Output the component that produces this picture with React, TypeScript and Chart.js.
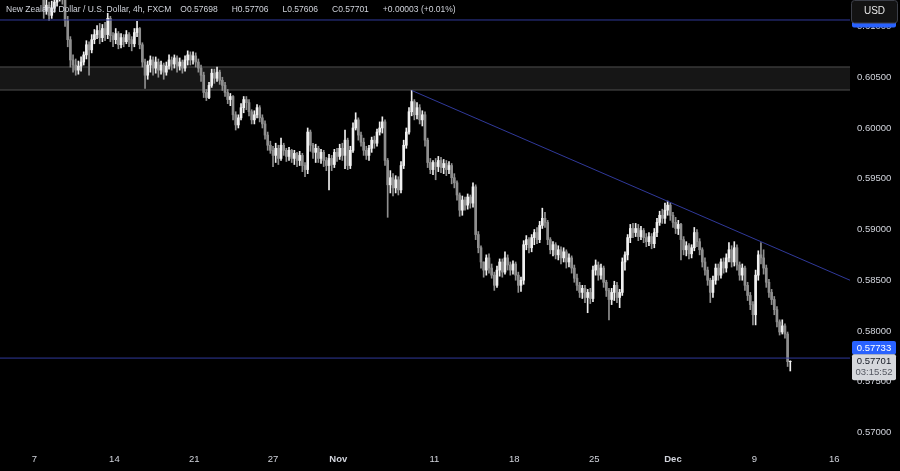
import { useEffect, useRef } from 'react';
import { Chart, registerables } from 'chart.js';

Chart.register(...registerables);

// 4h candles, prices in pips (price x 10000); open = previous close
const firstOpen = 6138;
const closes = [
  6140, 6142, 6138, 6141, 6144, 6139, 6137, 6140, 6143, 6141,
  6138, 6135, 6137, 6139, 6136, 6133, 6116, 6121, 6111, 6118,
  6124, 6131, 6134, 6129, 6106, 6087, 6067, 6062, 6057, 6061,
  6065, 6072, 6082, 6077, 6087, 6092, 6096, 6089, 6098, 6092,
  6108, 6091, 6087, 6093, 6082, 6089, 6085, 6092, 6087, 6083,
  6094, 6098, 6082, 6065, 6052, 6062, 6067, 6059, 6065, 6057,
  6062, 6055, 6061, 6067, 6063, 6069, 6061, 6065, 6059, 6067,
  6072, 6067, 6071, 6065, 6059, 6052, 6035, 6030, 6042, 6054,
  6049, 6055, 6047, 6042, 6035, 6028, 6031, 6013, 6003, 6010,
  6020, 6028, 6025, 6016, 6008, 6013, 6020, 6010, 6004, 5993,
  5983, 5978, 5973, 5980, 5970, 5983, 5978, 5972, 5978, 5970,
  5975, 5968, 5973, 5963, 5959, 5996, 5983, 5976, 5980, 5970,
  5976, 5968, 5963, 5970, 5964, 5976, 5972, 5980, 5973, 5988,
  5963, 5978, 6000, 6008, 5993, 5986, 5978, 5973, 5980, 5988,
  5985, 5996, 6000, 6006, 5968, 5944, 5951, 5941, 5949, 5939,
  5963, 5983, 5996, 6016, 6026, 6013, 6020, 6008, 6013, 5988,
  5966, 5959, 5966, 5962, 5968, 5961, 5965, 5959, 5963, 5951,
  5946, 5934, 5919, 5929, 5924, 5932, 5926, 5942, 5895, 5882,
  5868, 5860, 5872, 5862, 5855, 5845, 5860, 5868, 5858, 5872,
  5865, 5860, 5866, 5855, 5845, 5850, 5885, 5890, 5882, 5892,
  5897, 5890, 5904, 5911, 5907, 5890, 5880, 5885, 5875, 5880,
  5872, 5878, 5868, 5872, 5862, 5852, 5845, 5838, 5842, 5833,
  5838, 5832, 5860, 5865, 5855, 5862, 5848, 5840, 5831, 5838,
  5845, 5833, 5838, 5868, 5875, 5892, 5901, 5897, 5901, 5893,
  5899, 5892, 5888, 5893, 5886, 5897, 5907, 5914, 5911, 5919,
  5924, 5914, 5907, 5901, 5905, 5890, 5880, 5884, 5876, 5882,
  5897, 5888, 5880, 5868, 5860, 5850, 5838, 5850, 5862, 5855,
  5868, 5862, 5872, 5880, 5868, 5882, 5865, 5855, 5862, 5845,
  5835, 5826, 5816, 5855, 5875, 5872, 5862, 5848, 5838, 5831,
  5821, 5809, 5799, 5805, 5797, 5769.8, 5770.1,
];
const highs = [
  6146, 6147, 6144, 6146, 6149, 6146, 6143, 6145, 6148, 6147,
  6144, 6141, 6142, 6144, 6141, 6138, 6134, 6128, 6124, 6125,
  6132, 6137, 6140, 6138, 6133, 6110, 6090, 6072, 6068, 6066,
  6070, 6075, 6086, 6085, 6092, 6097, 6101, 6103, 6102, 6104,
  6113, 6110, 6094, 6098, 6095, 6093, 6092, 6096, 6094, 6090,
  6098, 6105, 6099, 6084, 6068, 6066, 6071, 6070, 6070, 6068,
  6066, 6064, 6065, 6072, 6070, 6072, 6071, 6069, 6067, 6071,
  6076, 6075, 6075, 6074, 6068, 6062, 6055, 6038, 6045, 6058,
  6058, 6060, 6057, 6050, 6045, 6038, 6034, 6032, 6016, 6013,
  6024, 6031, 6031, 6028, 6018, 6017, 6023, 6022, 6013, 6007,
  5996, 5987, 5982, 5985, 5983, 5990, 5985, 5980, 5981, 5979,
  5978, 5976, 5977, 5975, 5966, 6000, 5998, 5985, 5984, 5982,
  5979, 5978, 5971, 5974, 5973, 5979, 5980, 5984, 5985, 5998,
  5990, 5982, 6005, 6015, 6010, 5996, 5990, 5982, 5983, 5991,
  5992, 5999, 6006, 6011, 6008, 5970, 5958, 5955, 5953, 5952,
  5967, 5988, 6000, 6020, 6037, 6028, 6025, 6023, 6017, 6016,
  5990, 5970, 5968, 5970, 5972, 5971, 5969, 5968, 5967, 5965,
  5955, 5948, 5936, 5933, 5932, 5935, 5934, 5946, 5944, 5898,
  5884, 5868, 5875, 5876, 5866, 5858, 5864, 5871, 5871, 5878,
  5875, 5868, 5869, 5868, 5858, 5853, 5889, 5894, 5892, 5895,
  5900, 5902, 5908, 5921, 5917, 5909, 5892, 5888, 5887, 5884,
  5883, 5882, 5880, 5876, 5874, 5865, 5856, 5848, 5845, 5845,
  5841, 5842, 5864, 5870, 5868, 5866, 5864, 5850, 5842, 5842,
  5849, 5848, 5841, 5872, 5878, 5895, 5905, 5906, 5906, 5905,
  5903, 5901, 5896, 5897, 5896, 5901, 5911, 5918, 5920, 5926,
  5928, 5926, 5917, 5912, 5909, 5906, 5893, 5888, 5886, 5885,
  5902, 5900, 5891, 5882, 5872, 5863, 5852, 5854, 5866, 5866,
  5871, 5872, 5876, 5887, 5884, 5888, 5885, 5868, 5866, 5864,
  5848, 5838, 5829, 5860, 5879, 5887, 5880, 5865, 5851, 5841,
  5834, 5824, 5811, 5811, 5807, 5799, 5770.6,
];
const lows = [
  6134, 6136, 6133, 6135, 6138, 6134, 6132, 6134, 6138, 6136,
  6133, 6130, 6132, 6134, 6131, 6128, 6108, 6112, 6106, 6108,
  6114, 6120, 6125, 6122, 6100, 6080, 6060, 6055, 6052, 6053,
  6056, 6062, 6068, 6052, 6074, 6083, 6088, 6083, 6085, 6086,
  6088, 6085, 6080, 6083, 6078, 6079, 6080, 6083, 6080, 6076,
  6080, 6090, 6078, 6060, 6039, 6048, 6055, 6052, 6054, 6050,
  6053, 6048, 6052, 6058, 6057, 6059, 6055, 6057, 6054, 6056,
  6062, 6062, 6063, 6060, 6055, 6046, 6030, 6027, 6029, 6040,
  6044, 6046, 6043, 6037, 6031, 6024, 6022, 6008, 5998, 6000,
  6008, 6015, 6018, 6012, 6004, 6004, 6010, 6006, 6000, 5989,
  5978, 5975, 5962, 5966, 5964, 5968, 5973, 5967, 5968, 5966,
  5964, 5962, 5963, 5957, 5952, 5955, 5977, 5970, 5966, 5966,
  5965, 5962, 5958, 5939, 5958, 5961, 5967, 5969, 5968, 5960,
  5959, 5960, 5976, 5998, 5988, 5982, 5973, 5969, 5968, 5976,
  5980, 5982, 5993, 5995, 5963, 5912, 5936, 5933, 5936, 5934,
  5936, 5960, 5980, 5994, 6012, 6008, 6009, 6004, 6002, 5982,
  5961, 5955, 5954, 5949, 5957, 5956, 5955, 5953, 5955, 5945,
  5941, 5929, 5913, 5914, 5919, 5920, 5921, 5922, 5890, 5877,
  5862, 5853, 5855, 5857, 5852, 5840, 5843, 5854, 5853, 5856,
  5860, 5855, 5856, 5850, 5838, 5839, 5846, 5880, 5877, 5878,
  5885, 5886, 5887, 5901, 5902, 5885, 5876, 5874, 5871, 5870,
  5866, 5868, 5862, 5863, 5857, 5848, 5840, 5833, 5832, 5828,
  5818, 5827, 5829, 5855, 5850, 5851, 5843, 5834, 5811, 5826,
  5830, 5828, 5823, 5835, 5860, 5870, 5887, 5892, 5893, 5889,
  5890, 5887, 5883, 5884, 5881, 5882, 5893, 5904, 5906, 5906,
  5914, 5909, 5902, 5896, 5895, 5870, 5875, 5874, 5871, 5872,
  5879, 5883, 5875, 5863, 5855, 5845, 5828, 5833, 5846, 5850,
  5852, 5857, 5858, 5868, 5863, 5864, 5860, 5850, 5850, 5840,
  5830, 5821, 5806, 5806, 5850, 5866, 5856, 5843, 5833, 5826,
  5816, 5804, 5796, 5797, 5793, 5765, 5760.6,
];

// x-axis labels (bar-index positions) and price ticks
const tickPositions = [12.5, 42.5, 72.5, 102, 126.5, 162.5, 192.5, 222.5, 252, 282.5, 312.5];
const tickLabels = ['7', '14', '21', '27', 'Nov', '11', '18', '25', 'Dec', '9', '16'];
const monthLabels = ['Nov', 'Dec'];
const priceTicks = [0.57, 0.575, 0.58, 0.585, 0.59, 0.595, 0.6, 0.605, 0.61];

// drawn levels
const zoneTop = 0.60601;
const zoneBottom = 0.60374;
const supportLevel = 0.57733;
const upperLevel = 0.61064;
const trendStart = { x: 154, y: 0.6037 };
const trendEnd = { x: 318.4, y: 0.585 };
const lastPrice = 0.57701;
const countdown = '03:15:52';

const headerTitle = 'New Zealand Dollar / U.S. Dollar, 4h, FXCM';
const headerValues = ['O0.57698', 'H0.57706', 'L0.57606', 'C0.57701', '+0.00003 (+0.01%)'];

const X_MIN = -0.4;
const X_MAX = 318.4;
const Y_MIN = 0.56857;
const Y_MAX = 0.61261;

const UP = '#f0f0f0';
const DOWN = '#8f8f8f';
const LINE_BLUE = '#30399a';
const TEXT = '#d1d4dc';
const FONT = '"Liberation Sans", Arial, sans-serif';

function roundRect(ctx: CanvasRenderingContext2D, x: number, y: number, w: number, h: number, r: number) {
  ctx.beginPath();
  ctx.moveTo(x + r, y);
  ctx.lineTo(x + w - r, y);
  ctx.quadraticCurveTo(x + w, y, x + w, y + r);
  ctx.lineTo(x + w, y + h - r);
  ctx.quadraticCurveTo(x + w, y + h, x + w - r, y + h);
  ctx.lineTo(x + r, y + h);
  ctx.quadraticCurveTo(x, y + h, x, y + h - r);
  ctx.lineTo(x, y + r);
  ctx.quadraticCurveTo(x, y, x + r, y);
  ctx.closePath();
}

const overlayPlugin = {
  id: 'overlay',
  afterDraw(chart: any) {
    const ctx: CanvasRenderingContext2D = chart.ctx;
    const yScale = chart.scales.y;
    const right = chart.chartArea.right;
    ctx.save();

    // header
    ctx.font = `8.5px ${FONT}`;
    ctx.fillStyle = TEXT;
    ctx.textBaseline = 'middle';
    ctx.textAlign = 'left';
    let hx = 6;
    ctx.fillText(headerTitle, hx, 10);
    hx += ctx.measureText(headerTitle).width + 9;
    headerValues.forEach((t) => {
      ctx.fillText(t, hx, 10);
      hx += ctx.measureText(t).width + 14;
    });

    // upper level label (mostly hidden by the currency button)
    const uy = yScale.getPixelForValue(upperLevel);
    ctx.fillStyle = '#2962ff';
    roundRect(ctx, right + 2, uy - 7.5, 44, 15, 2);
    ctx.fill();

    // currency button
    ctx.fillStyle = '#131313';
    ctx.strokeStyle = '#3c3f48';
    ctx.lineWidth = 1;
    roundRect(ctx, right + 1.5, 0.5, 46, 22.5, 3);
    ctx.fill();
    ctx.stroke();
    ctx.fillStyle = '#e8e8e8';
    ctx.font = `10px ${FONT}`;
    ctx.textAlign = 'center';
    ctx.fillText('USD', right + 24.5, 11);

    // support level label
    const sy = yScale.getPixelForValue(supportLevel);
    ctx.fillStyle = '#2962ff';
    roundRect(ctx, right + 2, sy - 17, 44, 13.5, 2);
    ctx.fill();
    ctx.fillStyle = '#ffffff';
    ctx.font = `9.5px ${FONT}`;
    ctx.fillText(supportLevel.toFixed(5), right + 24, sy - 10);

    // last price + countdown label
    const ly = yScale.getPixelForValue(lastPrice);
    ctx.fillStyle = '#d5d7dc';
    roundRect(ctx, right + 2, ly - 7, 44, 26, 2);
    ctx.fill();
    ctx.fillStyle = '#131722';
    ctx.fillText(lastPrice.toFixed(5), right + 24, ly + 0.5);
    ctx.fillStyle = '#555862';
    ctx.fillText(countdown, right + 24, ly + 11.5);

    ctx.restore();
  },
};

export default function App() {
  const canvasRef = useRef<HTMLCanvasElement | null>(null);

  useEffect(() => {
    document.body.style.margin = '0';
    document.body.style.background = '#000';
    const canvas = canvasRef.current;
    if (!canvas) return;

    const opens = closes.map((_, i) => (i === 0 ? firstOpen : closes[i - 1]));
    const bodyData = closes.map((c, i) => ({ x: i, y: [opens[i] / 1e4, c / 1e4] }));
    const wickData = closes.map((c, i) => ({
      x: i,
      y: [Math.min(lows[i], opens[i], c) / 1e4, Math.max(highs[i], opens[i], c) / 1e4],
    }));
    const colors = closes.map((c, i) => (c >= opens[i] ? UP : DOWN));

    const flat = (v: number) => [
      { x: X_MIN, y: v },
      { x: X_MAX, y: v },
    ];

    const noPad = (s: any) => {
      s.paddingTop = 0;
      s.paddingBottom = 0;
      s.paddingLeft = 0;
      s.paddingRight = 0;
    };

    const chart = new Chart(canvas, {
      type: 'bar',
      data: {
        datasets: [
          {
            type: 'line',
            data: flat(zoneTop),
            borderColor: '#4f4f4f',
            borderWidth: 1,
            backgroundColor: '#161616',
            fill: '+1',
            pointRadius: 0,
            order: 20,
          } as any,
          {
            type: 'line',
            data: flat(zoneBottom),
            borderColor: '#4f4f4f',
            borderWidth: 1,
            fill: false,
            pointRadius: 0,
            order: 19,
          } as any,
          {
            type: 'bar',
            data: wickData,
            backgroundColor: colors,
            barThickness: 1,
            grouped: false,
            order: 6,
          } as any,
          {
            type: 'bar',
            data: bodyData,
            backgroundColor: colors,
            barThickness: 2,
            grouped: false,
            order: 5,
          } as any,
          {
            type: 'line',
            data: [trendStart, trendEnd],
            borderColor: LINE_BLUE,
            borderWidth: 1,
            pointRadius: 0,
            fill: false,
            order: 1,
          } as any,
          {
            type: 'line',
            data: flat(supportLevel),
            borderColor: LINE_BLUE,
            borderWidth: 1,
            pointRadius: 0,
            fill: false,
            order: 1,
          } as any,
          {
            type: 'line',
            data: flat(upperLevel),
            borderColor: LINE_BLUE,
            borderWidth: 1,
            pointRadius: 0,
            fill: false,
            order: 1,
          } as any,
        ],
      },
      options: {
        animation: false,
        responsive: true,
        maintainAspectRatio: false,
        layout: { padding: 0 },
        plugins: {
          legend: { display: false },
          tooltip: { enabled: false },
          title: { display: false },
        },
        scales: {
          x: {
            type: 'linear',
            min: X_MIN,
            max: X_MAX,
            offset: false,
            grid: { display: false, drawTicks: false },
            border: { display: false },
            afterBuildTicks: (s: any) => {
              s.ticks = tickPositions.map((v) => ({ value: v }));
            },
            afterFit: (s: any) => {
              s.height = 24;
              noPad(s);
            },
            ticks: {
              autoSkip: false,
              maxRotation: 0,
              padding: 7,
              color: TEXT,
              font: (c: any) => ({
                size: 9.5,
                family: FONT,
                weight: monthLabels.includes(tickLabels[c.index]) ? 'bold' : 'normal',
              }),
              callback: (_v: any, i: number) => tickLabels[i],
            },
          },
          y: {
            type: 'linear',
            position: 'right',
            min: Y_MIN,
            max: Y_MAX,
            grid: { display: false, drawTicks: false },
            border: { display: false },
            afterBuildTicks: (s: any) => {
              s.ticks = priceTicks.map((v) => ({ value: v }));
            },
            afterFit: (s: any) => {
              s.width = 50;
              noPad(s);
            },
            ticks: {
              padding: 7,
              color: TEXT,
              font: { size: 9.5, family: FONT },
              callback: (v: any) => Number(v).toFixed(5),
            },
          },
        },
      } as any,
      plugins: [overlayPlugin],
    });

    return () => chart.destroy();
  }, []);

  return (
    <div style={{ position: 'fixed', left: 0, top: 0, width: 900, height: 471, background: '#000' }}>
      <canvas ref={canvasRef} />
    </div>
  );
}
